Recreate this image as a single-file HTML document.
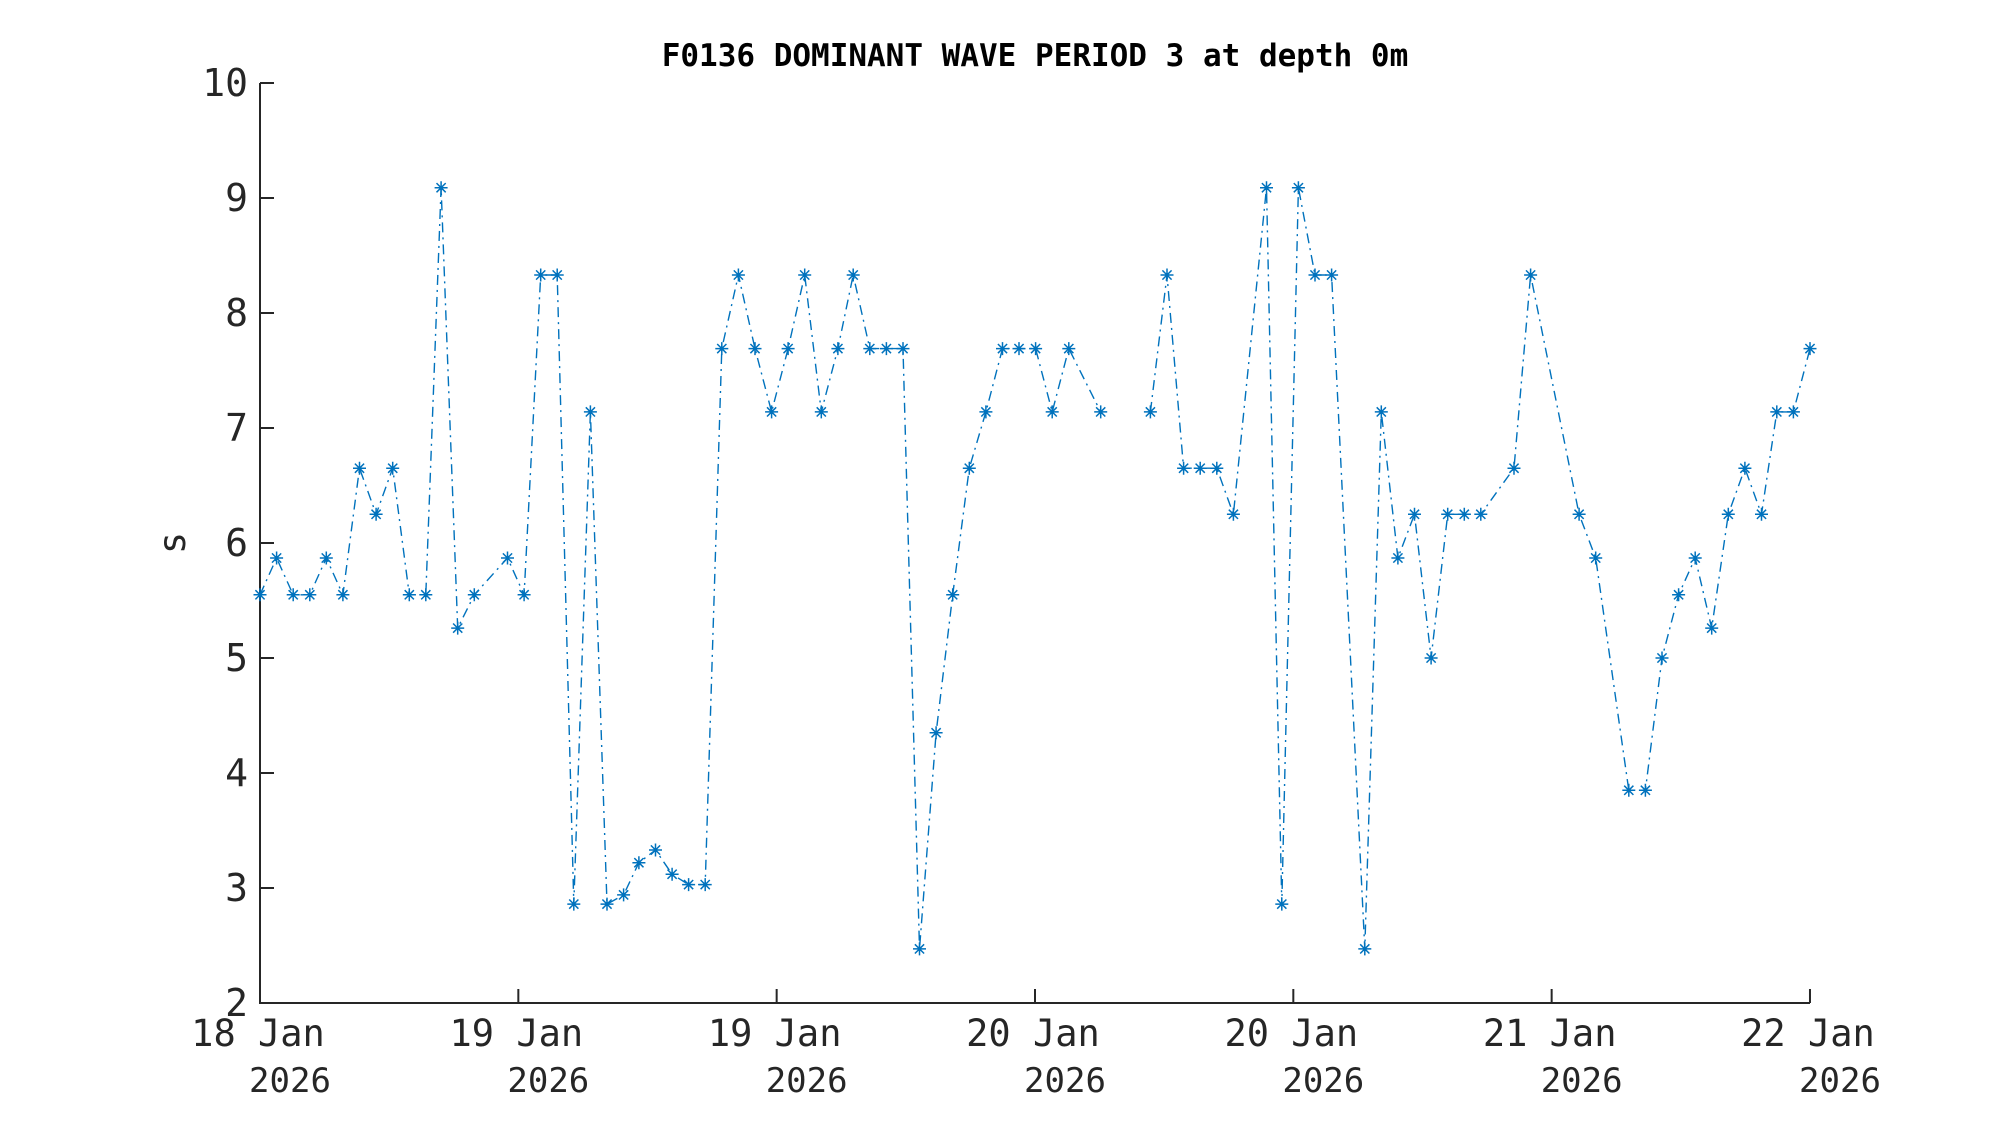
<!DOCTYPE html>
<html><head><meta charset="utf-8"><style>
html,body{margin:0;padding:0;background:#fff;}
svg{display:block;}
text{font-family:"DejaVu Sans Mono","Liberation Mono",monospace;fill:#262626;}
</style></head><body>
<svg id="c" width="2000" height="1125" xmlns="http://www.w3.org/2000/svg">
<rect width="2000" height="1125" fill="#fff"/>
<text x="1035" y="66" text-anchor="middle" font-size="31" font-weight="bold" style="fill:#000">F0136 DOMINANT WAVE PERIOD 3 at depth 0m</text>
<g id="ax" stroke="#262626" stroke-width="2" fill="none">
<path d="M260,83 V1003 H1810"/>
</g>
<g id="lbl"></g>
<text transform="translate(185,543) rotate(-90)" text-anchor="middle" font-size="37">s</text>
<g id="ser"></g>
</svg>
<script>
var NS="http://www.w3.org/2000/svg";
function el(t,a,p,txt){var e=document.createElementNS(NS,t);for(var k in a)e.setAttribute(k,a[k]);if(txt!==undefined)e.textContent=txt;p.appendChild(e);return e;}
var ax=document.getElementById('ax'),lbl=document.getElementById('lbl'),ser=document.getElementById('ser');
function Y(v){return 83+(10-v)*115;}
function X(x){return 260+(x-204)*1.2757;}
for(var v=2;v<=10;v++){var y=Y(v);el('path',{d:'M260,'+y+' h14'},ax);el('text',{x:248,y:y+13,'text-anchor':'end','font-size':38},lbl,String(v));}
var xl=['18 Jan','19 Jan','19 Jan','20 Jan','20 Jan','21 Jan','22 Jan'];
for(var i=0;i<7;i++){var x=260+i*258.33;el('path',{d:'M'+x+',1003 v-14'},ax);
el('text',{x:x-2,y:1046,'text-anchor':'middle','font-size':37},lbl,xl[i]);
el('text',{x:x+30,y:1092,'text-anchor':'middle','font-size':34},lbl,'2026');}
var d=[[204,5.55],[217,5.87],[230,5.55],[243,5.55],[256,5.87],[269,5.55],[282,6.65],[295,6.25],[308,6.65],[321,5.55],[334,5.55],[346,9.09],[359,5.26],[372,5.55],[398,5.87],[411,5.55],[424,8.33],[437,8.33],[450,2.86],[463,7.14],[476,2.86],[489,2.94],[501,3.22],[514,3.33],[527,3.12],[540,3.03],[553,3.03],[566,7.69],[579,8.33],[592,7.69],[605,7.14],[618,7.69],[631,8.33],[644,7.14],[657,7.69],[669,8.33],[682,7.69],[695,7.69],[708,7.69],[721,2.47],[734,4.35],[747,5.55],[760,6.65],[773,7.14],[786,7.69],[799,7.69],[812,7.69],[825,7.14],[838,7.69],[863,7.14],null,[902,7.14],[915,8.33],[928,6.65],[941,6.65],[954,6.65],[967,6.25],[993,9.09],[1005,2.86],[1018,9.09],[1031,8.33],[1044,8.33],[1070,2.47],[1083,7.14],[1096,5.87],[1109,6.25],[1122,5.0],[1135,6.25],[1148,6.25],[1161,6.25],[1187,6.65],[1200,8.33],[1238,6.25],[1251,5.87],[1277,3.85],[1290,3.85],[1303,5.0],[1316,5.55],[1329,5.87],[1342,5.26],[1355,6.25],[1368,6.65],[1381,6.25],[1393,7.14],[1406,7.14],[1419,7.69]];
var p='',start=true,m='';
d.forEach(function(q){if(!q){start=true;return;}var x=+X(q[0]).toFixed(1),y=+Y(q[1]).toFixed(1);p+=(start?'M':'L')+x+','+y;start=false;
var r=6.5,r2=4.6;m+='M'+(x-r)+','+y+'h'+(2*r)+'M'+x+','+(y-r)+'v'+(2*r)+'M'+(x-r2)+','+(y-r2)+'l'+(2*r2)+','+(2*r2)+'M'+(x-r2)+','+(y+r2)+'l'+(2*r2)+','+(-2*r2);});
el('path',{d:p,fill:'none',stroke:'#0072BD','stroke-width':1.4,'stroke-dasharray':'10,5,2,5'},ser);
el('path',{d:m,fill:'none',stroke:'#0072BD','stroke-width':1.5},ser);
</script>
</body></html>
